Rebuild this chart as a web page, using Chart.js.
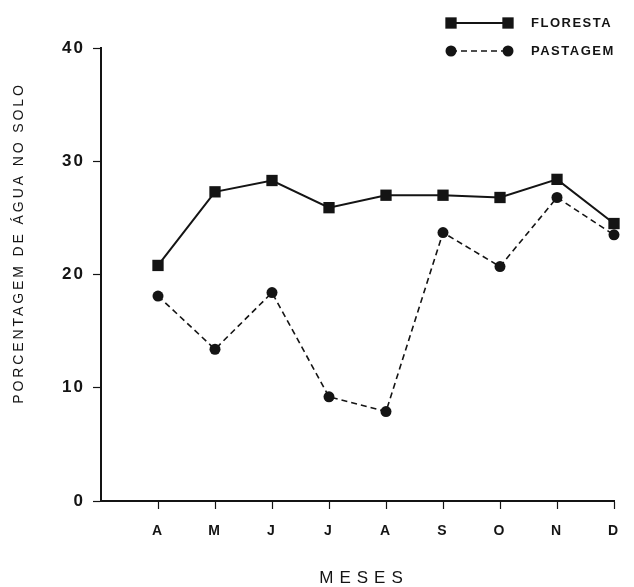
<!DOCTYPE html>
<html>
<head>
<meta charset="utf-8">
<script src="https://cdn.jsdelivr.net/npm/chart.js@4/dist/chart.umd.min.js"></script>
<style>
  html, body { margin: 0; padding: 0; background: #ffffff; }
  #wrap { width: 634px; height: 587px; position: relative; }
</style>
</head>
<body>
<div id="wrap"><canvas id="c" width="634" height="587"></canvas></div>
<script>
// Months (April to December)
const months = ['A', 'M', 'J', 'J', 'A', 'S', 'O', 'N', 'D'];
// Soil water content (%) under forest and pasture
const floresta = [20.8, 27.3, 28.3, 25.9, 27.0, 27.0, 26.8, 28.4, 24.5];
const pastagem = [18.1, 13.4, 18.4, 9.2, 7.9, 23.7, 20.7, 26.8, 23.5];
const yTicks = [0, 10, 20, 30, 40];
const seriesNames = ['FLORESTA', 'PASTAGEM'];
const yTitle = 'PORCENTAGEM DE ÁGUA NO SOLO';
const xTitle = 'MESES';

const INK = '#141414';
const FONT = '"Liberation Sans", Arial, sans-serif';

const toPoints = arr => arr.map((v, i) => ({ x: i + 1, y: v }));

// Paper background + letter-spaced tick labels
const paper = {
  id: 'paper',
  beforeDraw(chart) {
    const ctx = chart.ctx;
    ctx.save();
    ctx.fillStyle = '#ffffff';
    ctx.fillRect(0, 0, chart.width, chart.height);
    ctx.restore();
    ctx.letterSpacing = '2px';
  },
  beforeDatasetsDraw(chart) {
    chart.ctx.letterSpacing = '0px';
  }
};

// Axis titles and the legend with line samples
const annotations = {
  id: 'annotations',
  afterDraw(chart) {
    const ctx = chart.ctx;
    ctx.save();
    ctx.fillStyle = INK;

    // y title
    ctx.save();
    ctx.translate(19, 244);
    ctx.rotate(-Math.PI / 2);
    ctx.font = '14px ' + FONT;
    ctx.letterSpacing = '2.9px';
    ctx.textAlign = 'center';
    ctx.textBaseline = 'middle';
    ctx.fillText(yTitle, 1, 0);
    ctx.restore();

    // x title
    ctx.save();
    ctx.font = '17px ' + FONT;
    ctx.letterSpacing = '6px';
    ctx.textAlign = 'center';
    ctx.textBaseline = 'middle';
    ctx.fillText(xTitle, 364, 578);
    ctx.restore();

    // legend
    const rows = [{ y: 23 }, { y: 51 }];
    chart.data.datasets.forEach((ds, i) => {
      const y = rows[i].y;
      const x0 = 451, x1 = 508;
      ctx.save();
      ctx.strokeStyle = ds.borderColor;
      ctx.lineWidth = ds.borderWidth;
      ctx.setLineDash(ds.borderDash || []);
      ctx.beginPath();
      ctx.moveTo(x0, y);
      ctx.lineTo(x1, y);
      ctx.stroke();
      ctx.setLineDash([]);
      ctx.fillStyle = ds.pointBackgroundColor;
      [x0, x1].forEach(x => {
        if (ds.pointStyle === 'rect') {
          const s = ds.pointRadius * Math.SQRT1_2;
          ctx.fillRect(x - s, y - s, 2 * s, 2 * s);
        } else {
          ctx.beginPath();
          ctx.arc(x, y, ds.pointRadius, 0, Math.PI * 2);
          ctx.fill();
        }
      });
      ctx.font = 'bold 13px ' + FONT;
      ctx.letterSpacing = '1.5px';
      ctx.textAlign = 'left';
      ctx.textBaseline = 'middle';
      ctx.fillStyle = INK;
      ctx.fillText(ds.label, 531, y);
      ctx.restore();
    });
    ctx.restore();
  }
};

new Chart(document.getElementById('c'), {
  type: 'line',
  data: {
    datasets: [
      {
        label: seriesNames[0],
        data: toPoints(floresta),
        borderColor: INK,
        borderWidth: 2,
        pointStyle: 'rect',
        pointRadius: 8,
        pointBackgroundColor: INK,
        pointBorderColor: INK,
        pointBorderWidth: 0,
        tension: 0,
        clip: false
      },
      {
        label: seriesNames[1],
        data: toPoints(pastagem),
        borderColor: INK,
        borderWidth: 1.6,
        borderDash: [6, 4],
        pointStyle: 'circle',
        pointRadius: 5.5,
        pointBackgroundColor: INK,
        pointBorderColor: INK,
        pointBorderWidth: 0,
        tension: 0,
        clip: false
      }
    ]
  },
  options: {
    responsive: false,
    animation: false,
    events: [],
    layout: { padding: { top: 48, right: 20, left: 0, bottom: 0 } },
    plugins: { legend: { display: false }, tooltip: { enabled: false } },
    scales: {
      x: {
        type: 'linear',
        min: 0,
        max: 9,
        afterBuildTicks(scale) {
          scale.ticks = months.map((m, i) => ({ value: i + 1 }));
        },
        afterFit(scale) { scale.height = 86; },
        ticks: {
          callback: v => months[v - 1],
          color: INK,
          font: { family: FONT, size: 14, weight: 'bold' },
          padding: 14,
          maxRotation: 0,
          autoSkip: false
        },
        grid: { drawOnChartArea: false, tickLength: 8, tickWidth: 1.2, color: INK },
        border: { color: INK, width: 2 }
      },
      y: {
        min: 0,
        max: 40,
        afterBuildTicks(scale) {
          scale.ticks = yTicks.map(v => ({ value: v }));
        },
        afterFit(scale) { scale.width = 101; },
        ticks: {
          color: INK,
          font: { family: FONT, size: 17, weight: 'bold' },
          padding: 8
        },
        grid: { drawOnChartArea: false, tickLength: 8, tickWidth: 1.2, color: INK },
        border: { color: INK, width: 2 }
      }
    }
  },
  plugins: [paper, annotations]
});
</script>
</body>
</html>
